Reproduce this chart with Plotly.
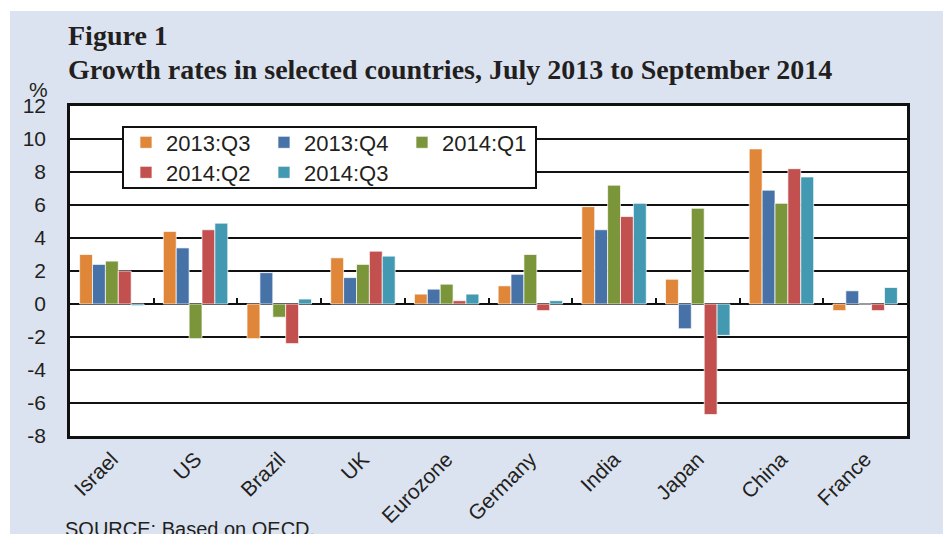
import plotly.graph_objects as go

categories = ['Israel', 'US', 'Brazil', 'UK', 'Eurozone', 'Germany', 'India', 'Japan', 'China', 'France']
series_names = ['2013:Q3', '2013:Q4', '2014:Q1', '2014:Q2', '2014:Q3']
q3_2013 = [3.0, 4.4, -2.1, 2.8, 0.6, 1.1, 5.9, 1.5, 9.4, -0.4]
q4_2013 = [2.4, 3.4, 1.9, 1.6, 0.9, 1.8, 4.5, -1.5, 6.9, 0.8]
q1_2014 = [2.6, -2.1, -0.8, 2.4, 1.2, 3.0, 7.2, 5.8, 6.1, 0.0]
q2_2014 = [2.0, 4.5, -2.4, 3.2, 0.2, -0.4, 5.3, -6.7, 8.2, -0.4]
q3_2014 = [-0.1, 4.9, 0.3, 2.9, 0.6, 0.2, 6.1, -1.9, 7.7, 1.0]
y_ticks = [-8, -6, -4, -2, 0, 2, 4, 6, 8, 10, 12]
y_tick_labels = ['-8', '-6', '-4', '-2', '0', '2', '4', '6', '8', '10', '12']

series_values = [q3_2013, q4_2013, q1_2014, q2_2014, q3_2014]
colors = ['#DF8639', '#4672A8', '#7A953A', '#C2504E', '#4399B1']
legends = ['legend', 'legend', 'legend', 'legend2', 'legend2']

TXT = '#231f20'
SANS = 'Liberation Sans, Arial, sans-serif'
SERIF = 'Liberation Serif, Times New Roman, serif'

fig = go.Figure()
for name, vals, col, lg in zip(series_names, series_values, colors, legends):
    fig.add_trace(go.Bar(
        x=categories, y=vals, name=name, legend=lg,
        marker=dict(color=col, line=dict(color='rgba(255,255,255,0.7)', width=1)),
    ))

# empty helper trace so the overlay axis (category boundary ticks on the zero line) is drawn
fig.add_trace(go.Scatter(x=categories, y=[None] * len(categories), xaxis='x2',
                         mode='markers', showlegend=False, hoverinfo='skip'))

leg_font = dict(family=SANS, size=22, color=TXT)
fig.update_layout(
    width=946, height=534,
    margin=dict(l=70, r=39, t=106, b=98, autoexpand=False),
    paper_bgcolor='#DCE3F0', plot_bgcolor='white',
    barmode='group', bargap=0.23, bargroupgap=0,
    showlegend=True,
    legend=dict(orientation='h', x=0.0669, y=0.953, xanchor='left', yanchor='top',
                bgcolor='rgba(0,0,0,0)', borderwidth=0, entrywidth=93,
                font=leg_font, traceorder='normal'),
    legend2=dict(orientation='h', x=0.0669, y=0.862, xanchor='left', yanchor='top',
                 bgcolor='rgba(0,0,0,0)', borderwidth=0, entrywidth=93,
                 font=leg_font, traceorder='normal'),
    xaxis=dict(type='category', range=[-0.5, 9.5], tickangle=-45,
               tickfont=dict(family=SANS, size=21, color=TXT),
               showline=True, linecolor='#111', linewidth=2.5, mirror=True,
               ticks='', showgrid=False, zeroline=False),
    xaxis2=dict(overlaying='x', anchor='free', position=0.4, side='bottom',
                type='category', range=[-0.5, 9.5], tickvals=[i + 0.5 for i in range(9)],
                ticks='inside', ticklen=6, tickwidth=2, tickcolor='#111',
                showticklabels=False, showgrid=False, showline=False, zeroline=False),
    yaxis=dict(range=[-8, 12], tickvals=y_ticks, ticktext=y_tick_labels,
               tickfont=dict(family=SANS, size=21, color=TXT),
               ticklabelstandoff=17,
               showline=True, linecolor='#111', linewidth=2.5, mirror=True,
               showgrid=True, gridcolor='#111', gridwidth=1.8,
               zeroline=True, zerolinecolor='#111', zerolinewidth=2.2, ticks=''),
    shapes=[
        # white page strips around the blue panel
        dict(type='rect', xref='paper', yref='paper', x0=-0.2, x1=1.2,
             y0=(436 - 11) / 330, y1=1.5, fillcolor='white', line=dict(width=0), layer='below'),
        dict(type='rect', xref='paper', yref='paper', x0=-0.2, x1=(10 - 70) / 837,
             y0=-0.5, y1=1.5, fillcolor='white', line=dict(width=0), layer='below'),
        dict(type='rect', xref='paper', yref='paper', x0=(943 - 70) / 837, x1=1.2,
             y0=-0.5, y1=1.5, fillcolor='white', line=dict(width=0), layer='below'),
        # legend box
        dict(type='rect', xref='paper', yref='paper',
             x0=(123 - 70) / 837, x1=(536 - 70) / 837,
             y0=(436 - 188) / 330, y1=(436 - 127) / 330,
             fillcolor='white', line=dict(color='#111', width=2), layer='above'),
    ],
    annotations=[
        dict(text='<b>Figure 1</b>', xref='paper', yref='paper', x=(66 - 70) / 837,
             y=(436 - 35) / 330, xanchor='left', yanchor='middle', showarrow=False,
             font=dict(family=SERIF, size=28, color=TXT)),
        dict(text='<b>Growth rates in selected countries, July 2013 to September 2014</b>',
             xref='paper', yref='paper', x=(66 - 70) / 837, y=(436 - 69) / 330,
             xanchor='left', yanchor='middle', showarrow=False,
             font=dict(family=SERIF, size=28, color=TXT)),
        dict(text='%', xref='paper', yref='paper', x=(38 - 70) / 837, y=(436 - 89) / 330,
             xanchor='center', yanchor='middle', showarrow=False,
             font=dict(family=SANS, size=21, color=TXT)),
        dict(text='SOURCE: Based on OECD.', xref='paper', yref='paper', x=(63 - 70) / 837,
             y=(436 - 516) / 330, xanchor='left', yanchor='top', showarrow=False,
             font=dict(family=SANS, size=20, color=TXT)),
    ],
)

fig.write_html('out.html', config={'displayModeBar': False},
               post_script="document.body.style.margin='0';")
